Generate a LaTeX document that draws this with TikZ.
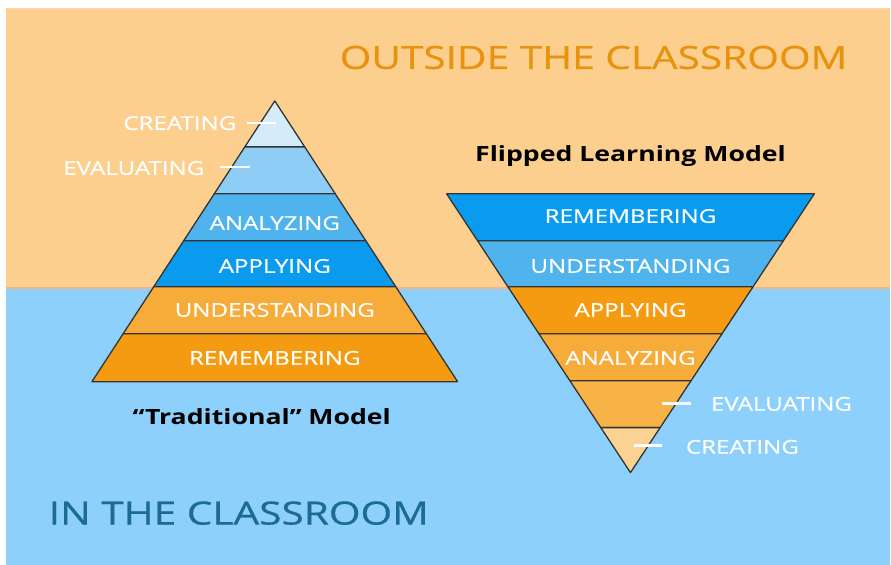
\documentclass[tikz,border=0pt]{standalone}
\usepackage{fontspec}
\setmainfont{Open Sans}[FakeStretch=1.27]
\newfontfamily\medfont{Open Sans}[FakeStretch=1.27, FakeBold=0.6]
\usepackage{tikz}
\usetikzlibrary{positioning}

\definecolor{bg_out}{HTML}{FDCF8E}
\definecolor{bg_in}{HTML}{8DD0FB}
\definecolor{seam}{HTML}{F6B48E}
\definecolor{title_out}{HTML}{E8920E}
\definecolor{title_in}{HTML}{1B6B99}
\definecolor{blue_1}{HTML}{D4EBFA}
\definecolor{blue_2}{HTML}{8ECDF6}
\definecolor{blue_3}{HTML}{4FB3EE}
\definecolor{blue_4}{HTML}{0A9BEE}
\definecolor{orange_1}{HTML}{FAD293}
\definecolor{orange_2}{HTML}{F8B347}
\definecolor{orange_3}{HTML}{F7AB38}
\definecolor{orange_4}{HTML}{F59B12}

\newcommand{\fsz}[1]{\fontsize{#1}{#1}\selectfont}

\begin{document}
\begin{tikzpicture}[x=1pt,y=-1pt,
    layer/.style={draw=black!80, line width=1.3pt, line join=round},
    lvl/.style={text=white, anchor=base, font=\medfont\fsz{19}},
    side/.style={text=white, anchor=base, font=\medfont\fsz{19}},
    tick/.style={white, line width=2.4pt},
    caption/.style={anchor=base, font=\fsz{21}\bfseries}]
    % Background: outside / in the classroom
    \fill[white] (0,0) rectangle (891,565);
    \fill[bg_out] (6,8) rectangle (891,288);
    \fill[bg_in] (6,288) rectangle (891,565);
    \draw[seam, line width=1.5pt] (6,288) -- (891,288);
    \draw[seam!60, line width=1pt] (6,8.5) -- (891,8.5);

    % Traditional pyramid (apex 275/101, base 382)
    \foreach \ya/\yb/\col in {101/147/blue_1, 147/194/blue_2, 194/241/blue_3,
                              241/287/blue_4, 287/334/orange_3, 334/382/orange_4}
        \filldraw[layer, fill=\col]
            ({275-(\ya-101)/281*183},\ya) -- ({275+(\ya-101)/281*183},\ya) --
            ({275+(\yb-101)/281*183},\yb) -- ({275-(\yb-101)/281*183},\yb) -- cycle;

    % Flipped pyramid (top 194, apex 631/473)
    \foreach \ya/\yb/\col in {194/241/blue_4, 241/287/blue_3, 287/334/orange_4,
                              334/381/orange_3, 381/428/orange_2, 428/473/orange_1}
        \filldraw[layer, fill=\col]
            ({631-(473-\ya)/279*184},\ya) -- ({631+(473-\ya)/279*184},\ya) --
            ({631+(473-\yb)/279*184},\yb) -- ({631-(473-\yb)/279*184},\yb) -- cycle;

    % Level labels
    \node[lvl] (t_ana) at (275,230) {ANALYZING};
    \node[lvl] (t_app) at (275,273) {APPLYING};
    \node[lvl] (t_und) at (275,317) {UNDERSTANDING};
    \node[lvl] (t_rem) at (275,365) {REMEMBERING};
    \node[lvl] (f_rem) at (631,223) {REMEMBERING};
    \node[lvl] (f_und) at (631,273) {UNDERSTANDING};
    \node[lvl] (f_app) at (631,317) {APPLYING};
    \node[lvl] (f_ana) at (631,365) {ANALYZING};

    % Side labels with ticks
    \node[side, anchor=base east] (t_cre) at (240,130) {CREATING};
    \node[side, anchor=base east] (t_eva) at (208,175) {EVALUATING};
    \node[side, anchor=base west] (f_eva) at (708,411) {EVALUATING};
    \node[side, anchor=base west] (f_cre) at (683,454) {CREATING};
    \coordinate (t_cre_end) at (276,123);
    \coordinate (t_eva_end) at (250,167);
    \coordinate (f_eva_end) at (663,404);
    \coordinate (f_cre_end) at (635,446);
    \draw[tick] (t_cre_end) -- (t_cre_end -| 247,0);
    \draw[tick] (t_eva_end) -- (t_eva_end -| 220,0);
    \draw[tick] (f_eva_end) -- (f_eva_end -| 692,0);
    \draw[tick] (f_cre_end) -- (f_cre_end -| 663,0);

    % Captions and titles
    \node[caption] (flip) at (631,162) {Flipped Learning Model};
    \node[caption] (trad) at (262,425) {“Traditional” Model};
    \node[anchor=base, text=title_out, font=\medfont\fsz{32}] (outside) at (594,69) {OUTSIDE THE CLASSROOM};
    \node[anchor=base, text=title_in, font=\medfont\fsz{32}] (inside) at (239,525) {IN THE CLASSROOM};
\end{tikzpicture}
\end{document}
